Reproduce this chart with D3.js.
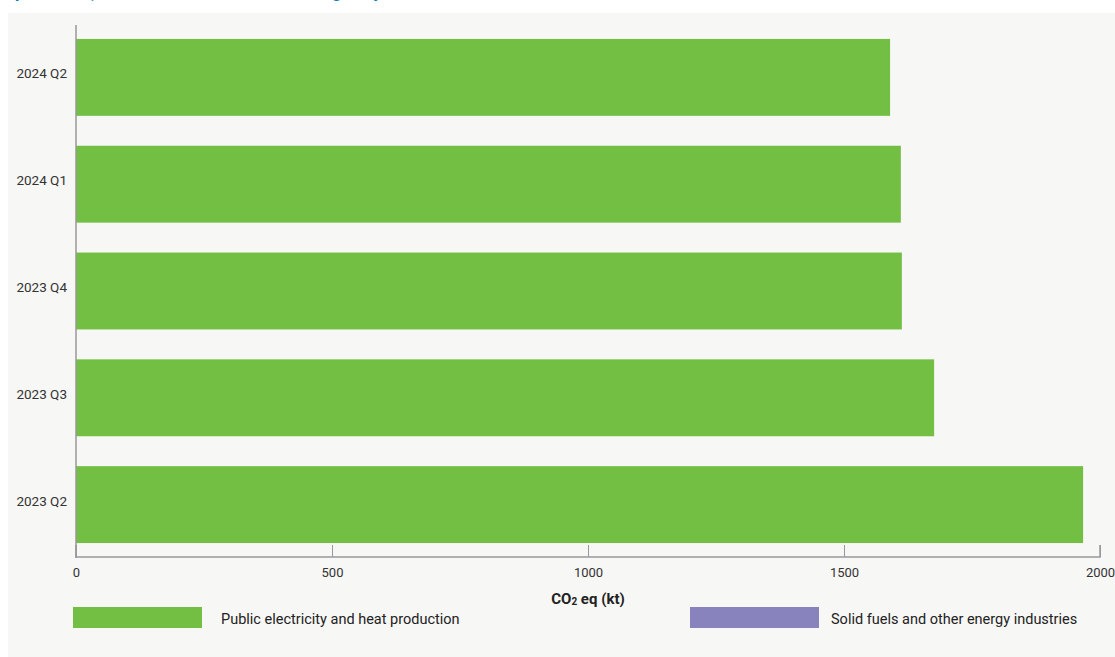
<!DOCTYPE html>
<html>
<head>
<meta charset="utf-8">
<script src="https://cdn.jsdelivr.net/npm/d3@7"></script>
<style>
  html, body { margin: 0; padding: 0; background: #ffffff; }
  svg { display: block; font-family: Roboto, "Noto Sans", sans-serif; }
</style>
</head>
<body>
<svg id="chart" width="1115" height="657"></svg>
<script>
// Quarters, top to bottom
const quarters = ["2024 Q2", "2024 Q1", "2023 Q4", "2023 Q3", "2023 Q2"];
// CO2 eq (kt) per quarter, by subsector
const publicElectricity = [1590, 1611, 1613, 1676, 1967];
const solidFuels = [0, 0, 0, 0, 0];
const seriesNames = ["Public electricity and heat production", "Solid fuels and other energy industries"];
const seriesColors = ["#72bf44", "#8882bd"];
const xTicks = [0, 500, 1000, 1500, 2000];

const svg = d3.select("#chart");
const W = 1115, H = 657;

// title line (upper part runs off the top edge)
svg.append("text")
  .attr("x", 15).attr("y", -2)
  .attr("fill", "#0f75bc")
  .attr("font-weight", 700)
  .attr("font-size", 17)
  .text("per sector, total emissions from the main gas by subsector");

// panel
svg.append("rect").attr("x", 8).attr("y", 13).attr("width", W - 8).attr("height", H - 13).attr("fill", "#f7f7f5");

const x = d3.scaleLinear().domain([0, 2000]).range([76, 1100]);
const y = d3.scaleBand().domain(quarters).range([24, 558]).paddingInner(0.28).paddingOuter(0.14);

const rows = quarters.map((q, i) => ({ q, a: publicElectricity[i], b: solidFuels[i] }));
const stack = d3.stack().keys(["a", "b"])(rows);

svg.append("g").selectAll("g").data(stack).join("g")
  .attr("fill", (d, i) => seriesColors[i])
  .selectAll("rect").data(d => d).join("rect")
  .attr("x", d => x(d[0]))
  .attr("y", d => y(d.data.q))
  .attr("width", d => x(d[1]) - x(d[0]))
  .attr("height", y.bandwidth());

// y axis line + labels
svg.append("line").attr("x1", 76).attr("x2", 76).attr("y1", 25).attr("y2", 558)
  .attr("stroke", "#999").attr("stroke-width", 1.5);
svg.append("g").selectAll("text").data(quarters).join("text")
  .attr("x", 67).attr("y", d => y(d) + y.bandwidth() / 2 - 4)
  .attr("text-anchor", "end").attr("dominant-baseline", "central")
  .attr("font-size", 13.5).attr("fill", "#333")
  .text(d => d);

// x axis with inward ticks
const xAxis = svg.append("g").attr("transform", "translate(0,557)")
  .call(d3.axisBottom(x).tickValues(xTicks).tickSize(-12).tickPadding(11).tickFormat(d3.format("d")));
xAxis.select(".domain").attr("stroke", "#999").attr("stroke-width", 1.5).attr("d", "M76,-12V0H1100V-12");
xAxis.selectAll(".tick line").attr("stroke", "#999");
xAxis.selectAll(".tick text").attr("font-size", 13).attr("fill", "#333").attr("font-family", "Roboto, sans-serif");

// axis title
const t = svg.append("text").attr("x", 588).attr("y", 604).attr("text-anchor", "middle")
  .attr("font-size", 15).attr("font-weight", 700).attr("fill", "#222");
t.append("tspan").text("CO");
t.append("tspan").attr("font-size", 10).attr("dy", 1).text("2");
t.append("tspan").attr("dy", -1).text(" eq (kt)");

// legend
const legendX = [73, 690];
const lg = svg.append("g").selectAll("g").data(seriesNames).join("g")
  .attr("transform", (d, i) => `translate(${legendX[i]},607)`);
lg.append("rect").attr("width", 129).attr("height", 21).attr("fill", (d, i) => seriesColors[i]);
lg.append("text").attr("x", (d, i) => i === 0 ? 148 : 141).attr("y", 12)
  .attr("dominant-baseline", "central").attr("font-size", 14.5).attr("fill", "#222")
  .text(d => d);
</script>
</body>
</html>
